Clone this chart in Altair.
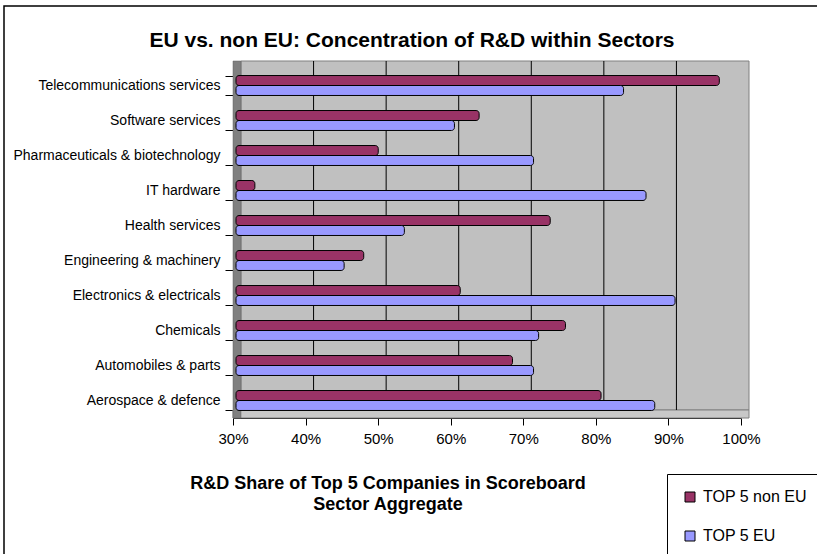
import altair as alt
import pandas as pd

categories = ["Telecommunications services", "Software services", "Pharmaceuticals & biotechnology",
              "IT hardware", "Health services", "Engineering & machinery", "Electronics & electricals",
              "Chemicals", "Automobiles & parts", "Aerospace & defence"]
non_eu = [96.6, 63.5, 49.6, 32.6, 73.3, 47.6, 60.9, 75.4, 68.1, 80.3]
eu = [83.4, 60.1, 71.0, 86.5, 53.2, 44.9, 90.5, 71.7, 71.0, 87.7]
series = ["TOP 5 non EU", "TOP 5 EU"]
colors = ["#993366", "#9999FF"]
ticks = [30, 40, 50, 60, 70, 80, 90, 100]
grid_vals = [40, 50, 60, 70, 80, 90]

rows = []
for c, a, b in zip(categories, non_eu, eu):
    rows.append({"sector": c, "series": series[0], "value": a})
    rows.append({"sector": c, "series": series[1], "value": b})
df = pd.DataFrame(rows)

FONT = "Liberation Sans"
W, H = 508, 350
L, T = 233, 68
DX = 8   # depth offset of back wall
xscale = alt.Scale(domain=[30, 100], nice=False, clamp=True)
xaxis = alt.Axis(values=ticks, labelExpr="datum.value + '%'", title=None, grid=False,
                 tickColor="black", tickSize=7, domainColor="black",
                 labelFontSize=15, labelPadding=6, labelFlush=False,
                 labelColor="black", labelFont=FONT)

one = pd.DataFrame({"a": [30], "b": [100]})

back = alt.Chart(one).mark_rect(fill="#C0C0C0", stroke="#808080", strokeWidth=1,
                                xOffset=DX, x2Offset=DX).encode(
    x=alt.X("a:Q", scale=xscale, axis=xaxis), x2="b:Q",
    y=alt.value(-7), y2=alt.value(342))
floor = alt.Chart(one).mark_rect(fill="#C8C8C8", stroke="#808080", strokeWidth=1,
                                 x2Offset=DX).encode(
    x=alt.X("a:Q", scale=xscale, axis=xaxis), x2="b:Q",
    y=alt.value(342), y2=alt.value(350))
wall = alt.Chart(one).mark_rect(fill="#808080", stroke="#606060", strokeWidth=0.5,
                                x2Offset=DX).encode(
    x=alt.X("a:Q", scale=xscale, axis=xaxis), x2="a:Q",
    y=alt.value(-7), y2=alt.value(350))

grid = alt.Chart(pd.DataFrame({"g": grid_vals})).mark_rule(color="black", strokeWidth=1,
                                                            xOffset=DX).encode(
    x=alt.X("g:Q", scale=xscale, axis=xaxis), y=alt.value(-7), y2=alt.value(342))

bars = alt.Chart(df).mark_bar(stroke="black", strokeWidth=1, cornerRadiusEnd=3,
                              xOffset=3, x2Offset=3, yOffset=-3).encode(
    x=alt.X("value:Q", scale=xscale, axis=xaxis),
    x2=alt.datum(30),
    y=alt.Y("sector:N", sort=categories,
            scale=alt.Scale(paddingInner=0.43, paddingOuter=0.215),
            axis=alt.Axis(title=None, tickBand="extent", tickColor="black", tickSize=8,
                          domainColor="black", labelFontSize=14, labelPadding=5,
                          labelColor="black", labelFont=FONT, labelLimit=300)),
    yOffset=alt.YOffset("series:N", sort=series),
    color=alt.Color("series:N", sort=series,
                    scale=alt.Scale(domain=series, range=colors),
                    legend=alt.Legend(title=None, orient="none", legendX=434, legendY=406,
                                      strokeColor="black", padding=15, rowPadding=23,
                                      symbolType="square", symbolSize=100, symbolStrokeColor="black",
                                      symbolStrokeWidth=1, labelFontSize=16, labelFont=FONT,
                                      labelOffset=5, labelColor="black", labelLimit=200,
                                      fillColor="white")),
)

title_df = pd.DataFrame({"t": ["EU vs. non EU: Concentration of R&D within Sectors"]})
title = alt.Chart(title_df).mark_text(fontSize=21, fontWeight="bold", font=FONT, color="black",
                                       align="center", baseline="alphabetic").encode(
    text="t:N", x=alt.value(412 - L), y=alt.value(46.5 - T))

xt_df = pd.DataFrame({"t": ["R&D Share of Top 5 Companies in Scoreboard"], "u": ["Sector Aggregate"]})
xt1 = alt.Chart(xt_df).mark_text(fontSize=18, fontWeight="bold", font=FONT, color="black",
                                  align="center", baseline="alphabetic").encode(
    text="t:N", x=alt.value(388 - L), y=alt.value(488.5 - T))
xt2 = alt.Chart(xt_df).mark_text(fontSize=18, fontWeight="bold", font=FONT, color="black",
                                  align="center", baseline="alphabetic").encode(
    text="u:N", x=alt.value(388 - L), y=alt.value(510 - T))

frame = alt.Chart(title_df).mark_rect(fill=None, stroke="black", strokeWidth=1.5).encode(
    x=alt.value(4 - L), x2=alt.value(840 - L), y=alt.value(6 - T), y2=alt.value(580 - T))

chart = alt.layer(frame, back, floor, wall, grid, bars, title, xt1, xt2).properties(
    width=W, height=H,
    autosize=alt.AutoSizeParams(type="none"),
    padding={"left": L, "top": T, "right": 817 - L - W, "bottom": 554 - T - H},
    background="white",
).configure_view(fill=None, stroke=None)

chart.save("out.html", embed_options={"renderer": "svg", "actions": False})
